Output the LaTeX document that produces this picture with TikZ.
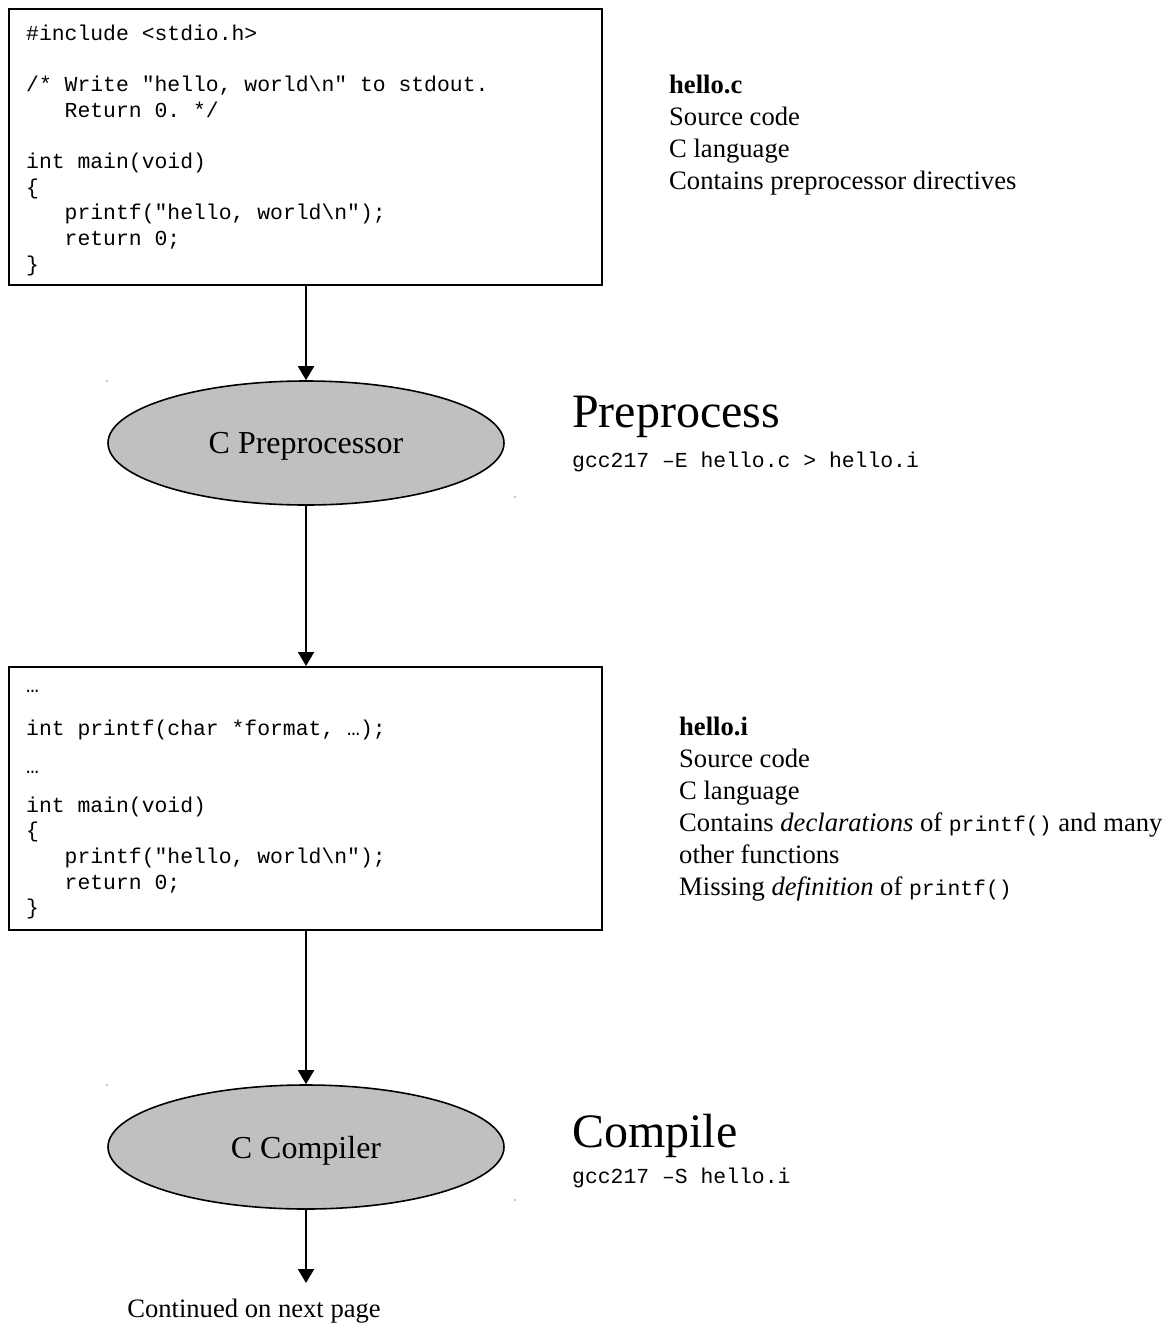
\documentclass[tikz,border=0pt]{standalone}
\usepackage{fontspec}
\setmainfont{Liberation Serif}
\setmonofont{Liberation Mono}
\usetikzlibrary{shapes.geometric,arrows.meta}
\begin{document}
\begin{tikzpicture}[x=1pt,y=-1pt,
  codebox/.style={draw,line width=2pt,minimum width=593pt,inner sep=0pt,anchor=north west},
  proc/.style={ellipse,draw,line width=1.6pt,fill=procgray,minimum width=396pt,minimum height=124pt,inner sep=0pt,
    text depth=0pt,font=\fontsize{32}{38}\selectfont},
  code/.style={anchor=base west,inner sep=0pt,font=\fontsize{21.4}{25.7}\ttfamily},
  note/.style={anchor=base west,inner sep=0pt,font=\fontsize{26.6}{32}\selectfont},
  head/.style={anchor=base west,inner sep=0pt,font=\fontsize{48}{56}\selectfont},
  flow/.style={line width=2pt,-{Triangle[width=16pt,length=14pt]}},
  speck/.style={fill=black!45,draw=none}]
\definecolor{procgray}{HTML}{C0C0C0}
\useasboundingbox (0,0) rectangle (1171,1325);
% source box
\node[codebox,minimum height=276pt] (box1) at (8,8) {};
\node[code] (c1) at (26,40) {\#include <stdio.h>};
\node[code] (c2) at (26,91.4) {/* Write "hello, world\textbackslash n" to stdout.};
\node[code] (c3) at (26,117.1) {\ \ \ Return 0. */};
\node[code] (c4) at (26,168.5) {int main(void)};
\node[code] (c5) at (26,194.2) {\{};
\node[code] (c6) at (26,219.9) {\ \ \ printf("hello, world\textbackslash n");};
\node[code] (c7) at (26,245.6) {\ \ \ return 0;};
\node[code] (c8) at (26,271.3) {\}};
% notes 1
\node[note] (n1) at (669,93) {\textbf{hello.c}};
\node[note] (n2) at (669,125) {Source code};
\node[note] (n3) at (669,157) {C language};
\node[note] (n4) at (669,189) {Contains preprocessor directives};
% preprocessor
\node[proc] (pp) at (306,443) {C Preprocessor};
\node[head] (h1) at (572,427) {Preprocess};
\node[code] (g1) at (572,467) {gcc217 –E hello.c > hello.i};
% preprocessed box
\node[codebox,minimum height=263pt] (box2) at (8,666) {};
\node[code] (d1) at (26,692) {…};
\node[code] (d2) at (26,735) {int printf(char *format, …);};
\node[code] (d3) at (26,773) {…};
\node[code] (d4) at (26,812) {int main(void)};
\node[code] (d5) at (26,837.7) {\{};
\node[code] (d6) at (26,863.4) {\ \ \ printf("hello, world\textbackslash n");};
\node[code] (d7) at (26,889.1) {\ \ \ return 0;};
\node[code] (d8) at (26,914.8) {\}};
% notes 2
\node[note] (m1) at (679,735) {\textbf{hello.i}};
\node[note] (m2) at (679,767) {Source code};
\node[note] (m3) at (679,799) {C language};
\node[note] (m4) at (679,831) {Contains \textit{declarations} of {\fontsize{21.4}{25.7}\ttfamily printf()} and many};
\node[note] (m5) at (679,863) {other functions};
\node[note] (m6) at (679,895) {Missing \textit{definition} of {\fontsize{21.4}{25.7}\ttfamily printf()}};
% compiler
\node[proc] (cc) at (306,1147) {C Compiler};
\node[head] (h2) at (572,1147) {Compile};
\node[code] (g2) at (572,1183) {gcc217 –S hello.i};
\coordinate (cont) at (306,1283);
\node[note,anchor=base] (nx) at (254,1317) {Continued on next page};
% connectors
\draw[flow] (306,0 |- box1.south) -- (pp.north);
\draw[flow] (pp.south) -- (306,0 |- box2.north);
\draw[flow] (306,0 |- box2.south) -- (cc.north);
\draw[flow] (cc.south) -- (cont);
% specks
\fill[speck] (107,381) circle (0.9);
\fill[speck] (515,497) circle (0.9);
\fill[speck] (107,1085) circle (0.9);
\fill[speck] (515,1200) circle (0.9);
\end{tikzpicture}
\end{document}
